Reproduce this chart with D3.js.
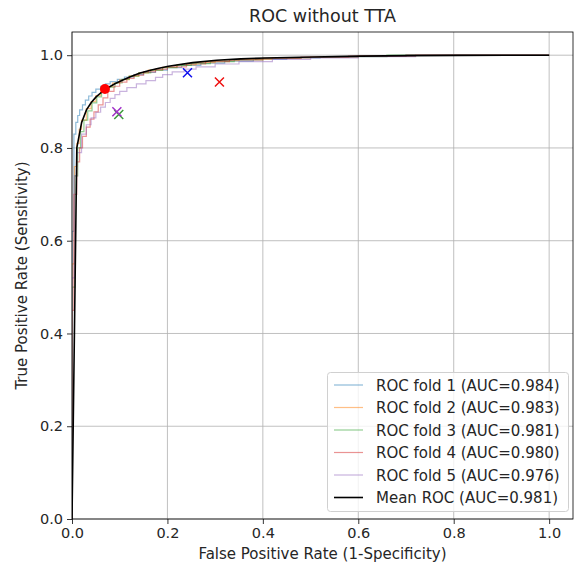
<!DOCTYPE html>
<html>
<head>
    <meta charset="utf-8">
    <title>ROC without TTA</title>
    <script src="https://d3js.org/d3.v7.min.js"></script>
    <style>
        body { margin: 0; background: white; }
        text { font-family: "DejaVu Sans", sans-serif; fill: #262626; }
        .grid line { stroke: #b0b0b0; stroke-width: 0.8px; }
        .axis text { font-size: 14.5px; fill: #262626; }
        .axis path, .axis line { stroke: black; stroke-width: 0.8px; }
    </style>
</head>
<body>
<script>
    // fold curves (fpr, tpr vertices)
    const fpr1 = [0, 0, 0.004, 0.004, 0.008, 0.012, 0.016, 0.022, 0.028, 0.035, 0.042, 0.05, 0.06, 0.07, 0.08, 0.095, 0.11, 0.13, 0.15, 0.175, 0.2, 0.23, 0.27, 0.32, 0.38, 0.45, 0.52, 0.6, 0.7, 1.0];
    const tpr1 = [0, 0.62, 0.78, 0.83, 0.855, 0.87, 0.882, 0.893, 0.903, 0.912, 0.92, 0.927, 0.933, 0.938, 0.943, 0.948, 0.953, 0.958, 0.963, 0.968, 0.973, 0.978, 0.983, 0.987, 0.991, 0.994, 0.996, 0.998, 1.0, 1.0];
    const fpr2 = [0, 0, 0.005, 0.01, 0.015, 0.02, 0.03, 0.04, 0.05, 0.06, 0.07, 0.085, 0.1, 0.12, 0.14, 0.16, 0.19, 0.22, 0.26, 0.3, 0.35, 0.42, 0.5, 0.6, 0.72, 1];
    const tpr2 = [0, 0.55, 0.76, 0.81, 0.84, 0.86, 0.885, 0.9, 0.913, 0.923, 0.932, 0.94, 0.947, 0.955, 0.962, 0.968, 0.974, 0.979, 0.984, 0.988, 0.991, 0.994, 0.996, 0.998, 1, 1];
    const fpr3 = [0, 0, 0.006, 0.012, 0.018, 0.025, 0.033, 0.042, 0.052, 0.062, 0.075, 0.09, 0.105, 0.12, 0.14, 0.165, 0.19, 0.22, 0.25, 0.29, 0.34, 0.4, 0.48, 0.56, 0.66, 1];
    const tpr3 = [0, 0.5, 0.74, 0.8, 0.835, 0.86, 0.88, 0.897, 0.91, 0.921, 0.931, 0.94, 0.948, 0.955, 0.962, 0.968, 0.973, 0.978, 0.982, 0.986, 0.99, 0.993, 0.995, 0.997, 1, 1];
    const fpr4 = [0, 0, 0.004, 0.01, 0.016, 0.022, 0.03, 0.038, 0.046, 0.055, 0.065, 0.075, 0.088, 0.1, 0.115, 0.13, 0.15, 0.175, 0.2, 0.24, 0.28, 0.33, 0.4, 0.48, 0.58, 0.7, 1];
    const tpr4 = [0, 0.45, 0.7, 0.77, 0.8, 0.825, 0.845, 0.862, 0.878, 0.893, 0.908, 0.922, 0.933, 0.942, 0.95, 0.957, 0.964, 0.97, 0.975, 0.981, 0.986, 0.99, 0.993, 0.996, 0.998, 1, 1];
    const fpr5 = [0, 0, 0.005, 0.01, 0.02, 0.03, 0.04, 0.05, 0.06, 0.07, 0.08, 0.09, 0.1, 0.115, 0.135, 0.155, 0.175, 0.19, 0.21, 0.235, 0.26, 0.3, 0.35, 0.42, 0.5, 0.6, 0.72, 1];
    const tpr5 = [0, 0.52, 0.74, 0.79, 0.83, 0.85, 0.865, 0.877, 0.888, 0.898, 0.907, 0.915, 0.922, 0.93, 0.938, 0.945, 0.952, 0.958, 0.964, 0.97, 0.975, 0.981, 0.986, 0.991, 0.994, 0.997, 1, 1];

    // mean curve
    const meanFpr = [0, 0.0101, 0.0202, 0.0303, 0.0404, 0.0505, 0.0606, 0.0707, 0.0808, 0.0909, 0.101, 0.121, 0.141, 0.162, 0.182, 0.202, 0.253, 0.303, 0.354, 0.404, 0.505, 0.606, 0.707, 0.808, 0.909, 1.0];
    const meanTpr = [0, 0.80, 0.855, 0.882, 0.898, 0.91, 0.919, 0.927, 0.933, 0.939, 0.944, 0.953, 0.961, 0.967, 0.972, 0.976, 0.984, 0.989, 0.992, 0.994, 0.996, 0.998, 0.999, 0.9995, 1.0, 1.0];

    const foldLabels = ["ROC fold 1 (AUC=0.984)", "ROC fold 2 (AUC=0.983)", "ROC fold 3 (AUC=0.981)",
                        "ROC fold 4 (AUC=0.980)", "ROC fold 5 (AUC=0.976)"];
    const meanLabel = "Mean ROC (AUC=0.981)";
    const foldColors = ["#1f77b4", "#ff7f0e", "#2ca02c", "#d62728", "#9467bd"];

    // operating points
    const crossFpr = [0.098, 0.094, 0.242, 0.309];
    const crossTpr = [0.872, 0.878, 0.962, 0.942];
    const crossColors = ["#3c9a3c", "#a030c8", "#1010ee", "#ee1010"];
    const dotFpr = [0.069];
    const dotTpr = [0.927];

    const xTicks = [0, 0.2, 0.4, 0.6, 0.8, 1.0];
    const yTicks = [0, 0.2, 0.4, 0.6, 0.8, 1.0];

    const W = 576, H = 567;
    const mLeft = 72, mRight = 573, mTop = 32, mBottom = 519;

    const svg = d3.select("body").append("svg").attr("width", W).attr("height", H);

    const x = d3.scaleLinear().domain([0, 1.05]).range([mLeft, mRight]);
    const y = d3.scaleLinear().domain([0, 1.05]).range([mBottom, mTop]);

    // grid
    const grid = svg.append("g").attr("class", "grid");
    grid.selectAll(".gx").data(xTicks).enter().append("line")
        .attr("x1", d => x(d)).attr("x2", d => x(d)).attr("y1", mTop).attr("y2", mBottom);
    grid.selectAll(".gy").data(yTicks).enter().append("line")
        .attr("y1", d => y(d)).attr("y2", d => y(d)).attr("x1", mLeft).attr("x2", mRight);

    svg.append("clipPath").attr("id", "clip").append("rect")
        .attr("x", mLeft).attr("y", mTop).attr("width", mRight - mLeft).attr("height", mBottom - mTop);

    const plot = svg.append("g").attr("clip-path", "url(#clip)");

    const stepLine = d3.line().x(d => x(d[0])).y(d => y(d[1])).curve(d3.curveStepAfter);
    const folds = [[fpr1, tpr1], [fpr2, tpr2], [fpr3, tpr3], [fpr4, tpr4], [fpr5, tpr5]];
    folds.forEach(function(f, i) {
        plot.append("path")
            .datum(d3.zip(f[0], f[1]))
            .attr("d", stepLine)
            .attr("fill", "none")
            .attr("stroke", foldColors[i])
            .attr("stroke-opacity", 0.5)
            .attr("stroke-width", 1.2);
    });

    plot.append("path")
        .datum(d3.zip(meanFpr, meanTpr))
        .attr("d", d3.line().x(d => x(d[0])).y(d => y(d[1])))
        .attr("fill", "none")
        .attr("stroke", "black")
        .attr("stroke-width", 1.6);

    // markers
    d3.zip(crossFpr, crossTpr, crossColors).forEach(function(d) {
        const cx = x(d[0]), cy = y(d[1]), s = 4.5;
        plot.append("path")
            .attr("d", `M${cx - s},${cy - s}L${cx + s},${cy + s}M${cx - s},${cy + s}L${cx + s},${cy - s}`)
            .attr("stroke", d[2])
            .attr("stroke-width", 1.5);
    });
    plot.selectAll(".dot").data(d3.zip(dotFpr, dotTpr)).enter().append("circle")
        .attr("cx", d => x(d[0])).attr("cy", d => y(d[1])).attr("r", 5)
        .attr("fill", "#ff0000");

    // axes
    svg.append("g").attr("class", "axis")
        .attr("transform", `translate(0,${mBottom})`)
        .call(d3.axisBottom(x).tickValues(xTicks).tickFormat(d3.format(".1f")).tickSize(5).tickPadding(4).tickSizeOuter(0));
    svg.append("g").attr("class", "axis")
        .attr("transform", `translate(${mLeft},0)`)
        .call(d3.axisLeft(y).tickValues(yTicks).tickFormat(d3.format(".1f")).tickSize(5).tickPadding(4).tickSizeOuter(0));
    svg.selectAll(".axis .domain").remove();

    svg.append("rect")
        .attr("x", mLeft).attr("y", mTop).attr("width", mRight - mLeft).attr("height", mBottom - mTop)
        .attr("fill", "none").attr("stroke", "black").attr("stroke-width", 0.8);

    svg.append("text").attr("x", (mLeft + mRight) / 2).attr("y", 22)
        .attr("text-anchor", "middle").style("font-size", "17.5px")
        .text("ROC without TTA");
    svg.append("text").attr("x", (mLeft + mRight) / 2).attr("y", 559)
        .attr("text-anchor", "middle").style("font-size", "15px")
        .text("False Positive Rate (1-Specificity)");
    svg.append("text").attr("transform", `translate(27,${(mTop + mBottom) / 2}) rotate(-90)`)
        .attr("text-anchor", "middle").style("font-size", "15px")
        .text("True Positive Rate (Sensitivity)");

    // legend
    const lg = svg.append("g");
    lg.append("rect").attr("x", 327.5).attr("y", 372.5).attr("width", 241).attr("height", 139)
        .attr("rx", 3).attr("fill", "white").attr("fill-opacity", 0.8)
        .attr("stroke", "#d0d0d0").attr("stroke-width", 1);
    const entries = foldLabels.map((t, i) => [t, foldColors[i], 0.5]).concat([[meanLabel, "black", 1]]);
    entries.forEach(function(e, i) {
        const ly = 385 + i * 22.5;
        lg.append("line").attr("x1", 334).attr("x2", 363).attr("y1", ly).attr("y2", ly)
            .attr("stroke", e[1]).attr("stroke-opacity", e[2]).attr("stroke-width", i === 5 ? 1.6 : 1.2);
        lg.append("text").attr("x", 376).attr("y", ly + 5.5).style("font-size", "15px").text(e[0]);
    });
</script>
</body>
</html>
